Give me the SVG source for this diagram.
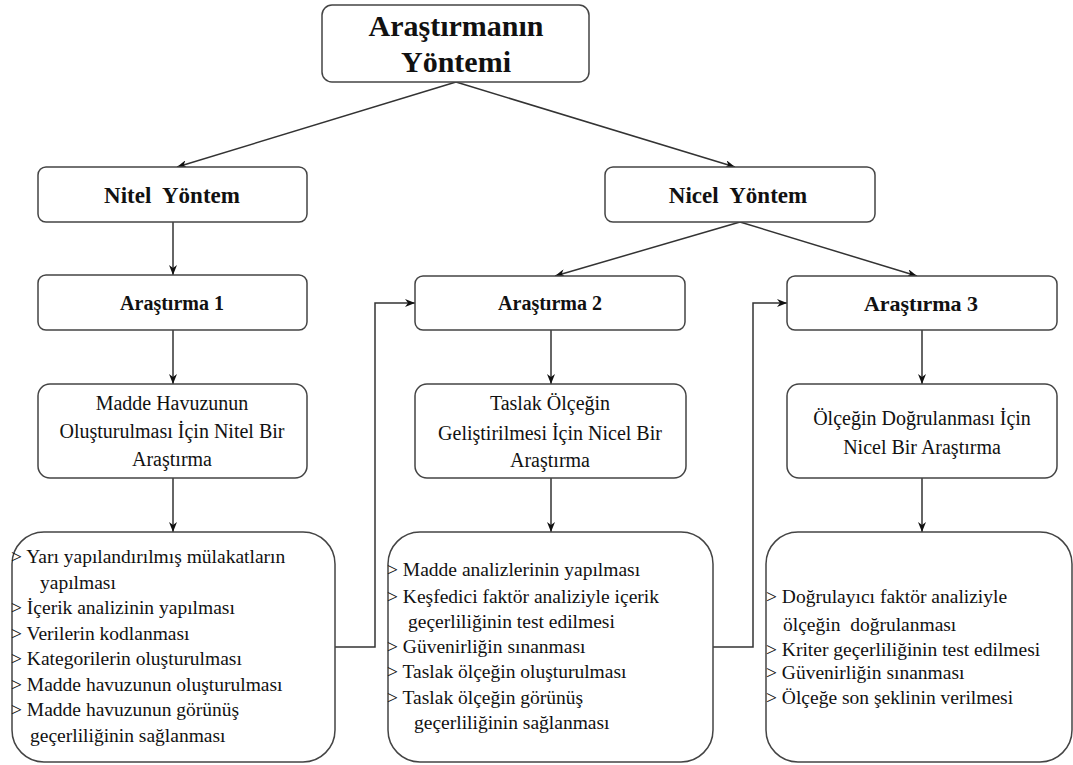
<svg xmlns="http://www.w3.org/2000/svg" width="1073" height="765" viewBox="0 0 1073 765">
<style>
.box{fill:#fff;stroke:#444;stroke-width:1.5}
.t{fill:#111;font-family:"Liberation Serif","Times New Roman",serif}
.b{font-weight:bold}
.c{text-anchor:middle}
.r{font-size:20px}
.l{font-size:19.5px}
.conn{fill:none;stroke:#333;stroke-width:1.5}
</style>
<defs>
<marker id="ah" viewBox="0 0 10 8" refX="10" refY="4" markerWidth="10" markerHeight="8" markerUnits="userSpaceOnUse" orient="auto">
<path d="M0,0 L10,4 L0,8 L3,4 z" fill="#111"/>
</marker>
</defs>
<rect width="1073" height="765" fill="#fff"/>
<g id="connectors">
<line class="conn" x1="456" y1="82" x2="177" y2="167" marker-end="url(#ah)"/>
<line class="conn" x1="456" y1="82" x2="735" y2="167" marker-end="url(#ah)"/>
<line class="conn" x1="173" y1="222" x2="173" y2="275" marker-end="url(#ah)"/>
<line class="conn" x1="173" y1="330" x2="173" y2="384" marker-end="url(#ah)"/>
<line class="conn" x1="173" y1="478" x2="173" y2="532" marker-end="url(#ah)"/>
<line class="conn" x1="740" y1="222" x2="555" y2="276" marker-end="url(#ah)"/>
<line class="conn" x1="740" y1="222" x2="917" y2="276" marker-end="url(#ah)"/>
<line class="conn" x1="551" y1="330" x2="551" y2="384" marker-end="url(#ah)"/>
<line class="conn" x1="551" y1="478" x2="551" y2="532" marker-end="url(#ah)"/>
<line class="conn" x1="922" y1="330" x2="922" y2="384" marker-end="url(#ah)"/>
<line class="conn" x1="922" y1="478" x2="922" y2="532" marker-end="url(#ah)"/>
<path class="conn" d="M335,647 H375 V303 H415" marker-end="url(#ah)"/>
<path class="conn" d="M713,647 H753 V303 H787" marker-end="url(#ah)"/>
</g>
<g id="root">
<rect class="box" x="322" y="5" width="267" height="77" rx="10"/>
<text class="t b c" x="456" y="36" font-size="30">Araştırmanın</text>
<text class="t b c" x="456" y="72" font-size="30">Yöntemi</text>
</g>
<g id="nitel">
<rect class="box" x="38" y="167" width="269" height="55" rx="8"/>
<text class="t b c" x="172" y="203" font-size="23" xml:space="preserve">Nitel  Yöntem</text>
</g>
<g id="nicel">
<rect class="box" x="605" y="167" width="270" height="55" rx="8"/>
<text class="t b c" x="738" y="203" font-size="23" xml:space="preserve">Nicel  Yöntem</text>
</g>
<g id="arastirma1">
<rect class="box" x="38" y="275" width="269" height="55" rx="8"/>
<text class="t b c" x="172" y="310" font-size="20">Araştırma 1</text>
</g>
<g id="arastirma2">
<rect class="box" x="415" y="276" width="270" height="54" rx="8"/>
<text class="t b c" x="550" y="310" font-size="20">Araştırma 2</text>
</g>
<g id="arastirma3">
<rect class="box" x="787" y="276" width="270" height="54" rx="8"/>
<text class="t b c" x="921" y="311" font-size="22">Araştırma 3</text>
</g>
<g id="madde">
<rect class="box" x="38" y="384" width="269" height="94" rx="12"/>
<text class="t r c" x="172" y="410">Madde Havuzunun</text>
<text class="t r c" x="172" y="438">Oluşturulması İçin Nitel Bir</text>
<text class="t r c" x="172" y="466">Araştırma</text>
</g>
<g id="taslak">
<rect class="box" x="415" y="384" width="271" height="94" rx="12"/>
<text class="t r c" x="550" y="410">Taslak Ölçeğin</text>
<text class="t r c" x="550" y="440">Geliştirilmesi İçin Nicel Bir</text>
<text class="t r c" x="550" y="467">Araştırma</text>
</g>
<g id="olcek">
<rect class="box" x="787" y="384" width="270" height="94" rx="12"/>
<text class="t r c" x="922" y="425">Ölçeğin Doğrulanması İçin</text>
<text class="t r c" x="922" y="454">Nicel Bir Araştırma</text>
</g>
<g id="liste1">
<rect class="box" x="12" y="532" width="323" height="230" rx="32"/>
<text class="t l" x="11" y="563">&gt; Yarı yapılandırılmış mülakatların</text>
<text class="t l" x="40" y="589">yapılması</text>
<text class="t l" x="11" y="614">&gt; İçerik analizinin yapılması</text>
<text class="t l" x="11" y="640">&gt; Verilerin kodlanması</text>
<text class="t l" x="11" y="665">&gt; Kategorilerin oluşturulması</text>
<text class="t l" x="11" y="691">&gt; Madde havuzunun oluşturulması</text>
<text class="t l" x="11" y="716">&gt; Madde havuzunun görünüş</text>
<text class="t l" x="30" y="742">geçerliliğinin sağlanması</text>
</g>
<g id="liste2">
<rect class="box" x="388" y="532" width="325" height="230" rx="32"/>
<text class="t l" x="387" y="576">&gt; Madde analizlerinin yapılması</text>
<text class="t l" x="387" y="603">&gt; Keşfedici faktör analiziyle içerik</text>
<text class="t l" x="408" y="628">geçerliliğinin test edilmesi</text>
<text class="t l" x="387" y="653">&gt; Güvenirliğin sınanması</text>
<text class="t l" x="387" y="678">&gt; Taslak ölçeğin oluşturulması</text>
<text class="t l" x="387" y="704">&gt; Taslak ölçeğin görünüş</text>
<text class="t l" x="414" y="729">geçerliliğinin sağlanması</text>
</g>
<g id="liste3">
<rect class="box" x="766" y="532" width="306" height="230" rx="32"/>
<text class="t l" x="766" y="603">&gt; Doğrulayıcı faktör analiziyle</text>
<text class="t l" x="783" y="631" xml:space="preserve">ölçeğin  doğrulanması</text>
<text class="t l" x="766" y="656">&gt; Kriter geçerliliğinin test edilmesi</text>
<text class="t l" x="766" y="679">&gt; Güvenirliğin sınanması</text>
<text class="t l" x="766" y="704">&gt; Ölçeğe son şeklinin verilmesi</text>
</g>
</svg>
